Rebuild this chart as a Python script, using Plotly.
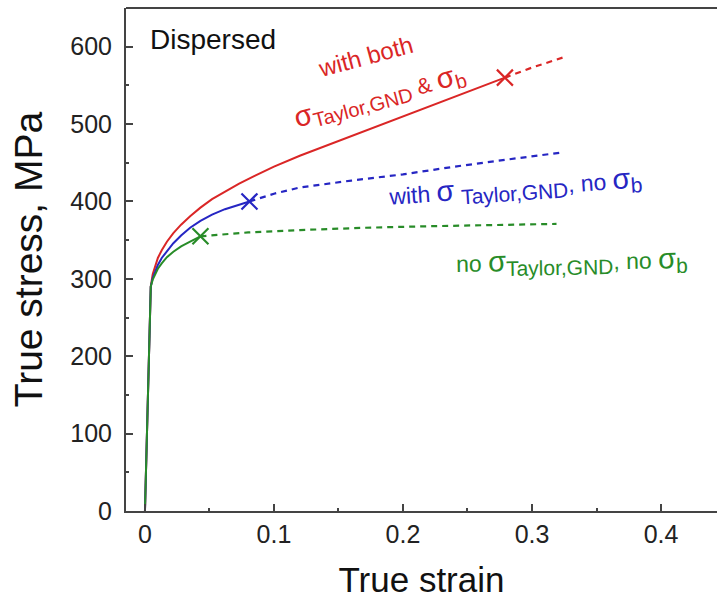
import plotly.graph_objects as go

# ---- data ----
red_solid_x = [0, 0.0045, 0.006, 0.008, 0.010, 0.013, 0.017, 0.022, 0.028, 0.035, 0.043, 0.052, 0.062, 0.073, 0.085,
               0.1, 0.12, 0.145, 0.167, 0.2, 0.24, 0.279]
red_solid_y = [0, 290, 306, 318, 327, 337, 348, 359, 370, 381, 392, 403, 413, 423, 433,
               445, 459, 475, 489, 510, 535, 560]
red_dash_x = [0.279, 0.30, 0.324]
red_dash_y = [560, 573, 586]

blue_solid_x = [0, 0.0045, 0.006, 0.008, 0.010, 0.013, 0.017, 0.022, 0.028, 0.035, 0.043, 0.052, 0.062, 0.071, 0.081]
blue_solid_y = [0, 290, 301, 311, 318, 327, 336, 346, 356, 366, 375, 383, 390, 395, 400]
blue_dash_x = [0.081, 0.1, 0.12, 0.16, 0.2, 0.24, 0.28, 0.322]
blue_dash_y = [400, 410, 418, 427, 435, 445, 454, 463]

green_solid_x = [0, 0.0045, 0.006, 0.008, 0.010, 0.013, 0.017, 0.022, 0.028, 0.035, 0.043]
green_solid_y = [0, 290, 299, 307, 313, 320, 328, 335, 342, 348, 355]
green_dash_x = [0.043, 0.08, 0.12, 0.17, 0.22, 0.27, 0.319]
green_dash_y = [355, 360, 363, 366, 368, 370, 371]

RED = "rgb(218,38,38)"
BLUE = "rgb(38,38,195)"
GREEN = "rgb(40,140,40)"

fig = go.Figure()

def add_curve(sx, sy, dx, dy, color):
    fig.add_trace(go.Scatter(x=sx, y=sy, mode="lines", line=dict(color=color, width=2), showlegend=False))
    fig.add_trace(go.Scatter(x=dx, y=dy, mode="lines", line=dict(color=color, width=2.2, dash="6px,5px"), showlegend=False))
    fig.add_trace(go.Scatter(x=[sx[-1]], y=[sy[-1]], mode="markers",
                             marker=dict(symbol="x-thin", size=16, line=dict(color=color, width=2.2)),
                             showlegend=False))

add_curve(red_solid_x, red_solid_y, red_dash_x, red_dash_y, RED)
add_curve(blue_solid_x, blue_solid_y, blue_dash_x, blue_dash_y, BLUE)
add_curve(green_solid_x, green_solid_y, green_dash_x, green_dash_y, GREEN)

FONT = "Liberation Sans, Arial, sans-serif"

def S(t):
    return "<span style='font-size:29px'>" + t + "</span>"

def SUB(t, size=21):
    return "<sub><span style='font-size:%dpx'>" % size + t + "</span></sub>"

annotations = [
    dict(x=0.0023, y=609, xref="x", yref="y", text="Dispersed", showarrow=False,
         xanchor="left", font=dict(size=28, color="#111", family=FONT)),
    dict(x=0.171, y=587, text="with both", textangle=-15, showarrow=False,
         font=dict(size=24, color=RED, family=FONT)),
    dict(x=0.182, y=535,
         text=S("σ") + SUB("Taylor,GND", 20) + " &amp; " + S("σ") + SUB("b", 20),
         textangle=-15, showarrow=False, font=dict(size=22, color=RED, family=FONT)),
    dict(x=0.287, y=418,
         text="with " + S("σ") + " " + SUB("Taylor,GND") + ", no " + S("σ") + SUB("b"),
         textangle=-4, showarrow=False, font=dict(size=23, color=BLUE, family=FONT)),
    dict(x=0.331, y=323,
         text="no " + S("σ") + SUB("Taylor,GND") + ", no " + S("σ") + SUB("b"),
         textangle=-1, showarrow=False, font=dict(size=23, color=GREEN, family=FONT)),
]

fig.update_layout(
    width=717, height=599,
    margin=dict(l=126, r=0, t=8, b=88),
    paper_bgcolor="white", plot_bgcolor="white",
    font=dict(family=FONT, color="#222"),
    annotations=annotations,
    shapes=[dict(type="line", xref="paper", yref="paper", x0=0, x1=1, y0=1, y1=1,
                 line=dict(color="#444", width=2))],
    xaxis=dict(range=[-0.0147, 0.4434], showgrid=False, zeroline=False,
               showline=True, linecolor="#444", linewidth=2,
               ticks="inside", ticklen=7, tickwidth=1.5, tickcolor="#444",
               tickvals=[0, 0.1, 0.2, 0.3, 0.4], ticktext=["0", "0.1", "0.2", "0.3", "0.4"],
               minor=dict(tickvals=[0.05, 0.15, 0.25, 0.35], ticks="inside", ticklen=3, tickcolor="#444"),
               tickfont=dict(size=25, color="#222"),
               title=dict(text="True strain", font=dict(size=35, color="#111"), standoff=21)),
    yaxis=dict(range=[0, 650], showgrid=False, zeroline=False,
               showline=True, linecolor="#444", linewidth=2,
               ticks="inside", ticklen=7, tickwidth=1.5, tickcolor="#444",
               tickvals=[0, 100, 200, 300, 400, 500, 600],
               minor=dict(tickvals=[50, 150, 250, 350, 450, 550], ticks="inside", ticklen=3, tickcolor="#444"),
               tickfont=dict(size=25, color="#222"), ticklabelstandoff=7,
               title=dict(text="True stress, MPa", font=dict(size=39, color="#111"), standoff=16)),
)

fig.write_html("out.html")
